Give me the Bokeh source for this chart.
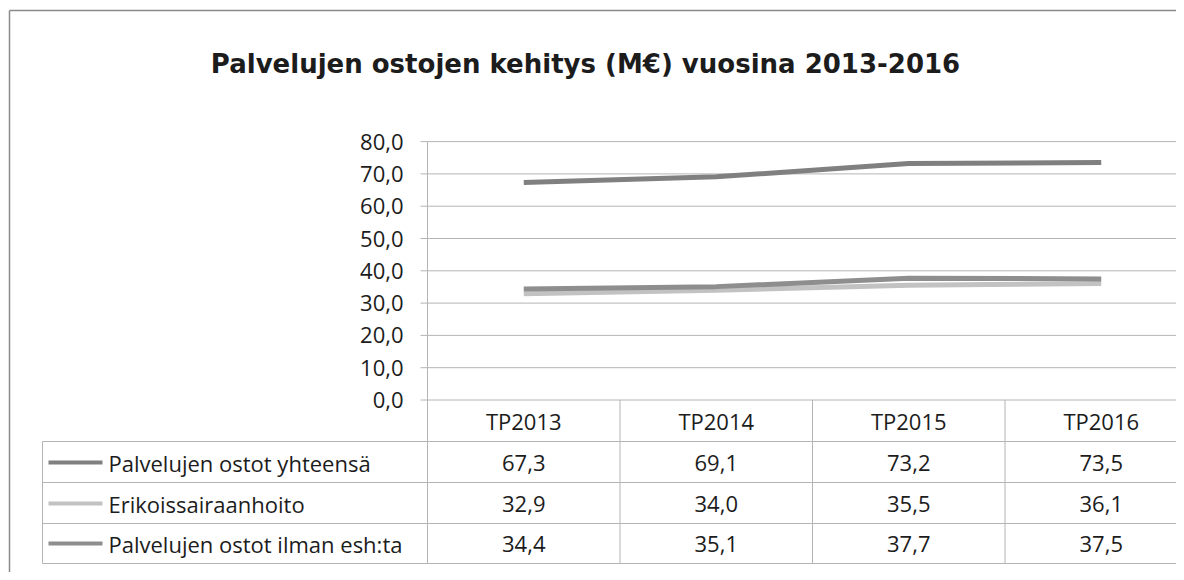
from bokeh.plotting import figure
from bokeh.models import Range1d, ColumnDataSource
from bokeh.core.properties import value
from bokeh.embed import file_html
from bokeh.resources import INLINE

# ---- data ----
categories = ["TP2013", "TP2014", "TP2015", "TP2016"]
series_names = ["Palvelujen ostot yhteensä", "Erikoissairaanhoito", "Palvelujen ostot ilman esh:ta"]
yhteensa = [67.3, 69.1, 73.2, 73.5]
erikoissairaanhoito = [32.9, 34.0, 35.5, 36.1]
ilman_esh = [34.4, 35.1, 37.7, 37.5]
y_ticks = [0, 10, 20, 30, 40, 50, 60, 70, 80]
title_text = "Palvelujen ostojen kehitys (M€) vuosina 2013-2016"

series = [yhteensa, erikoissairaanhoito, ilman_esh]
colors = ["#808080", "#c2c2c2", "#8e8e8e"]

W, H = 1176, 572
OX, OY = 0, 0                 # screen position of the figure's top-left corner
CX0, CW = 523.25, 192.5       # screen x of first category centre, width of a category
Y0, YS = 399.5, 3.23          # screen y of value 0, px per unit

def sx(px):
    return (px - CX0) / CW

def sy(py):
    return (Y0 - py) / YS

p = figure(width=W, height=H, output_backend="svg", toolbar_location=None,
           x_range=Range1d(sx(OX), sx(OX + W)), y_range=Range1d(sy(OY + H), sy(OY)),
           min_border=0, outline_line_color=None)
p.axis.visible = False
p.grid.visible = False
p.background_fill_color = "white"
p.border_fill_color = "white"

font = value("Open Sans")
fs = "22px"
txt_col = "#1c1c1c"
grid_col = "#b4b4b4"
xr = sx(OX + W) + 1

# chart border (top and left)
p.segment(x0=[sx(9), sx(9)], y0=[sy(10), sy(10)], x1=[sx(9), xr], y1=[sy(OY + H + 5), sy(10)],
          line_color="#8a8a8a", line_width=1.5)

# title
p.text(x=[sx(585)], y=[sy(63)], text=[title_text], text_font=value("DejaVu Sans"),
       text_font_style="bold", text_font_size="26px", text_align="center",
       text_baseline="middle", text_color=txt_col)

n = len(categories)
# gridlines
p.segment(x0=[-0.5] * len(y_ticks), x1=[xr] * len(y_ticks), y0=y_ticks, y1=y_ticks,
          line_color=grid_col, line_width=1)
# y tick marks
p.segment(x0=[sx(420)] * len(y_ticks), x1=[-0.5] * len(y_ticks), y0=y_ticks, y1=y_ticks,
          line_color=grid_col, line_width=1)
# y axis line
p.segment(x0=[-0.5], x1=[-0.5], y0=[max(y_ticks)], y1=[0], line_color=grid_col, line_width=1)
# y tick labels
p.text(x=[sx(403)] * len(y_ticks), y=y_ticks,
       text=[f"{t:.1f}".replace(".", ",") for t in y_ticks],
       text_font=font, text_font_size=fs, text_align="right", text_baseline="middle",
       text_color=txt_col)

# data table
row_edges = [sy(441), sy(482), sy(523), sy(563)]
bounds = [i - 0.5 for i in range(n + 1)]
p.segment(x0=[sx(42)] * len(row_edges), x1=[xr] * len(row_edges), y0=row_edges, y1=row_edges,
          line_color=grid_col, line_width=1)
p.segment(x0=[sx(42)], x1=[sx(42)], y0=[row_edges[0]], y1=[row_edges[-1]],
          line_color=grid_col, line_width=1)
p.segment(x0=bounds, x1=bounds, y0=[0] * len(bounds), y1=[row_edges[-1]] * len(bounds),
          line_color=grid_col, line_width=1)
p.text(x=list(range(n)), y=[sy(420)] * n, text=categories, text_font=font,
       text_font_size=fs, text_align="center", text_baseline="middle", text_color=txt_col)

row_centres = [sy(462), sy(503), sy(543)]
for k, (name, vals, col) in enumerate(zip(series_names, series, colors)):
    yc = row_centres[k]
    p.segment(x0=[sx(48)], x1=[sx(102)], y0=[yc], y1=[yc], line_color=col, line_width=4)
    p.text(x=[sx(108)], y=[yc], text=[name], text_font=font, text_font_size=fs,
           text_align="left", text_baseline="middle", text_color=txt_col)
    p.text(x=list(range(n)), y=[yc] * n, text=[f"{v:.1f}".replace(".", ",") for v in vals],
           text_font=font, text_font_size=fs, text_align="center", text_baseline="middle",
           text_color=txt_col)

# series lines (smoothed like the original)
try:
    from bokeh.models import Spline
    for vals, col in zip(series, colors):
        src = ColumnDataSource(dict(x=list(range(n)), y=vals))
        p.add_glyph(src, Spline(x="x", y="y", line_color=col, line_width=5, tension=0.5))
except Exception:
    for vals, col in zip(series, colors):
        p.line(x=list(range(n)), y=vals, line_color=col, line_width=5)

open("out.html", "w").write(file_html(p, INLINE))
